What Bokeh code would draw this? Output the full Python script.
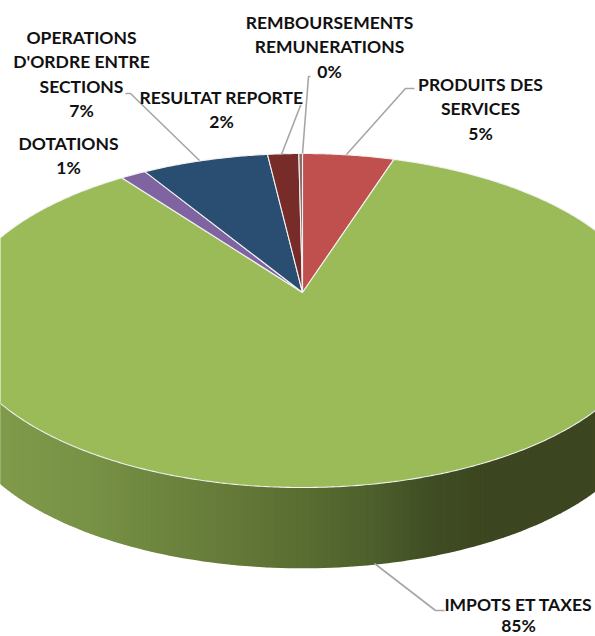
import numpy as np
from bokeh.plotting import figure
from bokeh.models import ColumnDataSource, Range1d
from bokeh.core.properties import value
from bokeh.embed import file_html
from bokeh.resources import INLINE

# Data (clockwise from 12 o'clock)
categories = ["PRODUITS DES SERVICES", "IMPOTS ET TAXES", "DOTATIONS",
              "OPERATIONS D'ORDRE ENTRE SECTIONS", "RESULTAT REPORTE",
              "REMBOURSEMENTS REMUNERATIONS"]
shares = [5.0, 84.8, 1.4, 6.9, 1.7, 0.2]
slice_colors = ["#C0504D", "#9BBB59", "#8064A2", "#2A4D72", "#772C2A", "#8C6A68"]

# Labels: lines, centre x, first-line y, line step
label_lines = [["PRODUITS DES", "SERVICES", "5%"],
               ["IMPOTS ET TAXES", "85%"],
               ["DOTATIONS", "1%"],
               ["OPERATIONS", "D'ORDRE ENTRE", "SECTIONS", "7%"],
               ["RESULTAT REPORTE", "2%"],
               ["REMBOURSEMENTS", "REMUNERATIONS", "0%"]]
label_x = [480, 518, 68, 81, 221, 329]
label_y = [84, 604, 143, 37, 97, 22]
label_step = [24.4, 20.5, 24.4, 24.4, 24.4, 24.4]

leader_x = [[346, 405, 414], [374, 435, 444],
            [199, 130, 125], [281, 300, 301], [302, 308, 310]]
leader_y = [[154, 88, 88], [563, 610, 610],
            [160, 93, 93], [154, 105, 105], [153, 76, 76]]

# Perspective of the disc
cx, cy, a, b, k = 302.0, 292.0, 343.0, 162.3, -0.1677
depth = 80.0
wall_stop_x = [0, 90, 170, 240, 300, 370, 430, 490, 595]
wall_stop_r = [128, 120, 108, 100, 90, 78, 64, 60, 60]
wall_stop_g = [155, 146, 132, 120, 110, 96, 78, 70, 70]
wall_stop_b = [75, 70, 62, 56, 50, 44, 36, 32, 32]


def project(theta):
    u, v = np.sin(theta), -np.cos(theta)
    w = 1 + k * v
    return cx + a * u / w, cy + b * v / w


p = figure(width=595, height=636, x_range=Range1d(0, 595), y_range=Range1d(636, 0),
           toolbar_location=None, output_backend="svg", min_border=0,
           outline_line_color=None, background_fill_color="white", border_fill_color="white")
p.axis.visible = False
p.grid.visible = False

# Side wall, split into overlapping strips for the shading
th = np.radians(np.linspace(60, 300, 241))
X, Y = project(th)
keep = Y >= cy + 20
X, Y = X[keep], Y[keep]
xs, ys, cols = [], [], []
for i in range(len(X) - 1):
    xs.append([X[i], X[i + 1], X[i + 1], X[i]])
    ys.append([Y[i], Y[i + 1], Y[i + 1] + depth, Y[i] + depth])
    m = (X[i] + X[i + 1]) / 2
    r = int(np.interp(m, wall_stop_x, wall_stop_r))
    g = int(np.interp(m, wall_stop_x, wall_stop_g))
    c = int(np.interp(m, wall_stop_x, wall_stop_b))
    cols.append(f"#{r:02x}{g:02x}{c:02x}")
p.patches(xs="xs", ys="ys", fill_color="cols", line_color="cols", line_width=1.6,
          source=ColumnDataSource(dict(xs=xs, ys=ys, cols=cols)))

# Top of the disc
edges = np.radians(np.concatenate([[0], np.cumsum(shares)]) * 3.6)
xs, ys = [], []
for i in range(len(shares)):
    n = max(2, int(shares[i] * 8))
    px, py = project(np.linspace(edges[i], edges[i + 1], n))
    xs.append([cx, *px])
    ys.append([cy, *py])
p.patches(xs="xs", ys="ys", fill_color="cols", line_color="#F2F2F2", line_width=1.1,
          source=ColumnDataSource(dict(xs=xs, ys=ys, cols=slice_colors)))

# Leader lines
p.multi_line(xs=leader_x, ys=leader_y, line_color="#A6A6A6", line_width=1.6)

# Labels
tx, ty, tt = [], [], []
for lines, x0, y0, step in zip(label_lines, label_x, label_y, label_step):
    for j, t in enumerate(lines):
        tx.append(x0)
        ty.append(y0 + j * step)
        tt.append(t)
p.text(x=tx, y=ty, text=tt, text_font=value("Lato"), text_font_style="bold",
       text_font_size="17.5px", text_color="#111111", text_align="center",
       text_baseline="middle")

open("out.html", "w").write(file_html(p, INLINE))
